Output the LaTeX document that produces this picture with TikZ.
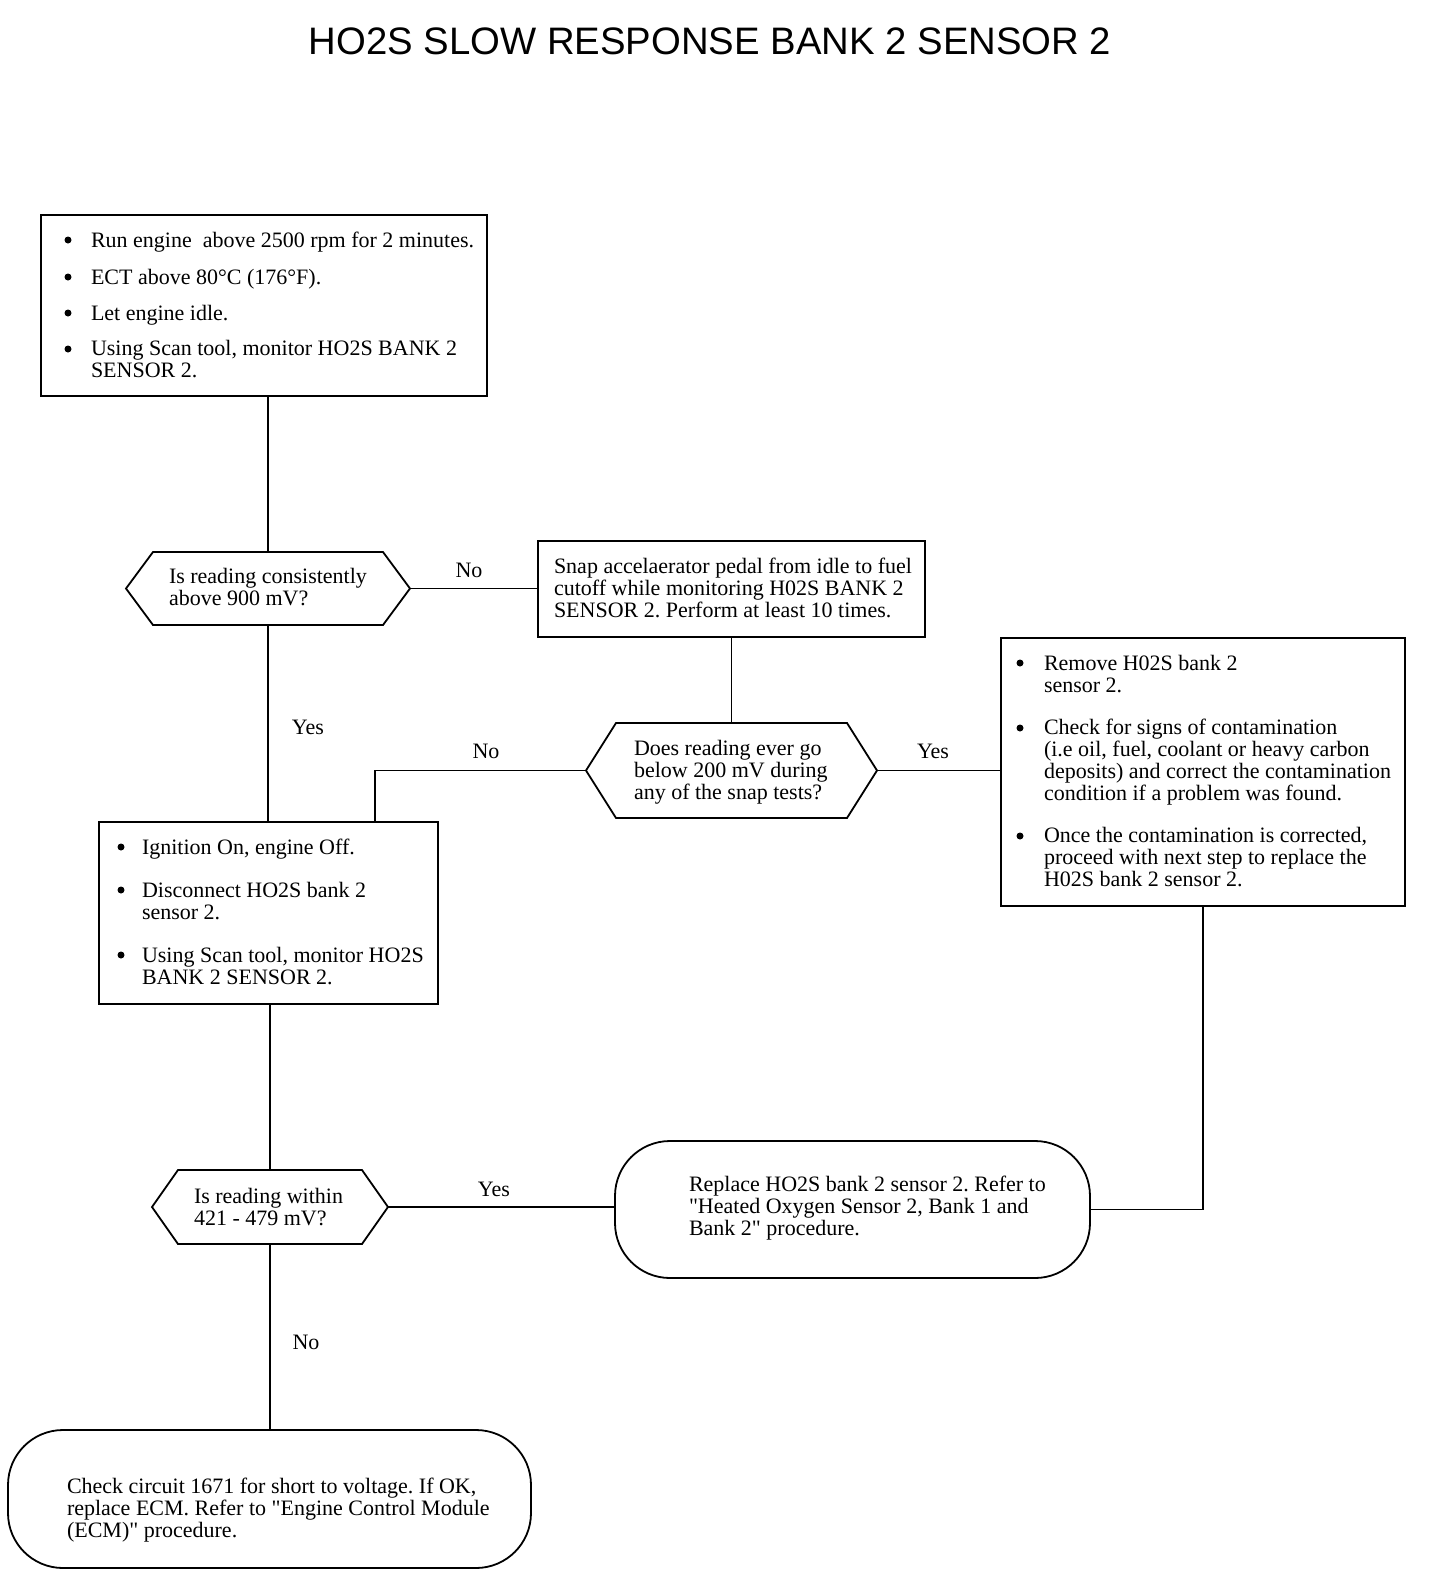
\documentclass[tikz,border=0pt]{standalone}
\usepackage{fontspec}
\setmainfont{Liberation Serif}[Ligatures=TeXOff]
\newfontfamily\titlefont{Liberation Sans}
\usetikzlibrary{calc}
\frenchspacing
\begin{document}
\begin{tikzpicture}[x=1pt,y=-1pt,
  every node/.style={inner sep=0pt,outer sep=0pt},
  ln/.style={line width=1.8pt},
  box/.style={draw,ln},
  rbox/.style={draw,ln,rounded corners=55pt},
  hexbox/.style={draw=none},
  txt/.style={anchor=base west,align=left,font=\fontsize{22}{21.7}\selectfont},
  lbl/.style={anchor=base,font=\fontsize{22}{21.7}\selectfont},
  bul/.style={circle,fill=black,minimum size=7pt}]
\fill[white] (0,0) rectangle (1440,1596);
\useasboundingbox (0,0) rectangle (1440,1596);

\node[font=\titlefont\fontsize{38.3}{38}\selectfont] (title) at (710,41) {HO2S SLOW RESPONSE BANK 2 SENSOR 2};

% boxes
\node[box,minimum width=446pt,minimum height=181pt] (b1) at (264,305.5) {};
\node[box,minimum width=387pt,minimum height=96pt] (b2) at (731.5,589) {};
\node[box,minimum width=404pt,minimum height=268pt] (b3) at (1203,772) {};
\node[box,minimum width=339pt,minimum height=182pt] (b4) at (268.5,913) {};
\node[rbox,minimum width=475pt,minimum height=137pt] (b5) at (852.5,1209.5) {};
\node[rbox,minimum width=523pt,minimum height=138pt] (b6) at (269.5,1499) {};

% hexagon frames
\node[hexbox,minimum width=284pt,minimum height=73pt] (h1) at (268,588.5) {};
\node[hexbox,minimum width=291pt,minimum height=95pt] (h2) at (731.5,770.5) {};
\node[hexbox,minimum width=236pt,minimum height=74pt] (h3) at (270,1207) {};
\foreach \h/\d in {h1/27,h2/30,h3/26}{
  \draw[ln] (\h.west) -- ($(\h.north west)+(\d,0)$) -- ($(\h.north east)+(-\d,0)$) -- (\h.east)
    -- ($(\h.south east)+(-\d,0)$) -- ($(\h.south west)+(\d,0)$) -- cycle;
}

% box 1 text (anchor = baseline of last line)
\node[bul] (b1d1) at (68,240) {};
\node[txt] (b1t1) at (91,247) {Run engine~ above 2500 rpm for 2 minutes.};
\node[bul] (b1d2) at (68,277) {};
\node[txt] (b1t2) at (91,284) {ECT above 80°C (176°F).};
\node[bul] (b1d3) at (68,313) {};
\node[txt] (b1t3) at (91,320) {Let engine idle.};
\node[bul] (b1d4) at (68,349) {};
\node[txt] (b1t4) at (91,377) {Using Scan tool, monitor HO2S BANK 2\\SENSOR 2.};

% box 2 text
\node[txt] (b2t) at (554,617) {Snap accelaerator pedal from idle to fuel\\cutoff while monitoring H02S BANK 2\\SENSOR 2. Perform at least 10 times.};

% hex texts
\node[txt] (h1t) at (169,605) {Is reading consistently\\above 900 mV?};
\node[txt] (h2t) at (634,799) {Does reading ever go\\below 200 mV during\\any of the snap tests?};
\node[txt] (h3t) at (194,1225) {Is reading within\\421 - 479 mV?};

% box 3 text
\node[bul] (b3d1) at (1020,663) {};
\node[txt] (b3t1) at (1044,692) {Remove H02S bank 2\\sensor 2.};
\node[bul] (b3d2) at (1020,728) {};
\node[txt] (b3t2) at (1044,800) {Check for signs of contamination\\(i.e oil, fuel, coolant or heavy carbon\\deposits) and correct the contamination\\condition if a problem was found.};
\node[bul] (b3d3) at (1020,836) {};
\node[txt] (b3t3) at (1044,886) {Once the contamination is corrected,\\proceed with next step to replace the\\H02S bank 2 sensor 2.};

% box 4 text
\node[bul] (b4d1) at (121,847) {};
\node[txt] (b4t1) at (142,854) {Ignition On, engine Off.};
\node[bul] (b4d2) at (121,890) {};
\node[txt] (b4t2) at (142,919) {Disconnect HO2S bank 2\\sensor 2.};
\node[bul] (b4d3) at (121,955) {};
\node[txt] (b4t3) at (142,984) {Using Scan tool, monitor HO2S\\BANK 2 SENSOR 2.};

% box 5 and 6 text
\node[txt] (b5t) at (689,1235) {Replace HO2S bank 2 sensor 2. Refer to\\"Heated Oxygen Sensor 2, Bank 1 and\\Bank 2" procedure.};
\node[txt] (b6t) at (67,1537) {Check circuit 1671 for short to voltage. If OK,\\replace ECM. Refer to "Engine Control Module\\(ECM)" procedure.};

% connectors
\coordinate (b4in) at (375,822);
\draw[ln] (h1.north |- b1.south) -- (h1.north);
\draw[ln] (h1.east) -- (h1.east -| b2.west);
\draw[ln] (b2.south) -- (h2.north);
\draw[ln] (h2.east) -- (h2.east -| b3.west);
\draw[ln] (h2.west) -| (b4in);
\draw[ln] (h1.south) -- (h1.south |- b4.north);
\draw[ln] (h3.north |- b4.south) -- (h3.north);
\draw[ln] (h3.east) -- (h3.east -| b5.west);
\draw[ln] (b3.south) |- (b5.east);
\draw[ln] (h3.south) -- (h3.south |- b6.north);

% labels
\node[lbl] (l1) at (469,577) {No};
\node[lbl] (l2) at (308,734) {Yes};
\node[lbl] (l3) at (486,758) {No};
\node[lbl] (l4) at (933,758) {Yes};
\node[lbl] (l5) at (494,1196) {Yes};
\node[lbl] (l6) at (306,1349) {No};
\end{tikzpicture}
\end{document}
